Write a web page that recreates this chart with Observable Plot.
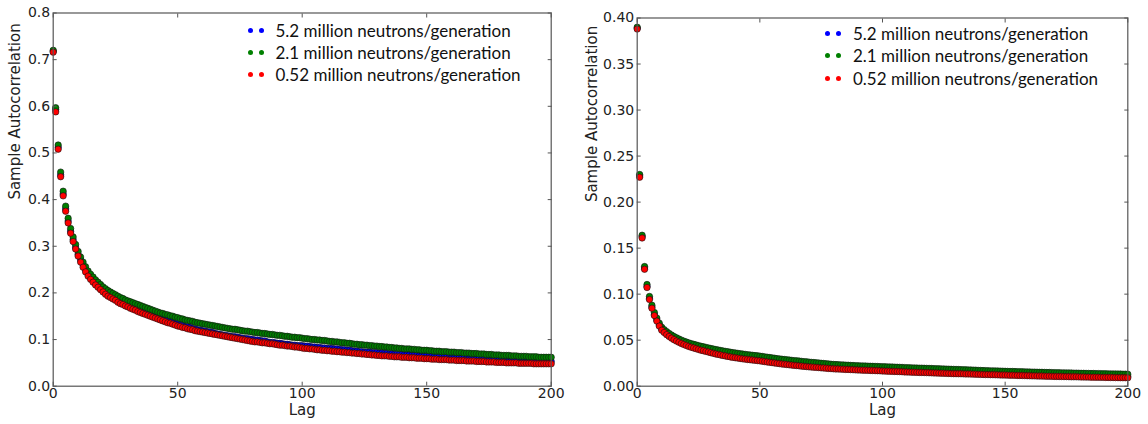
<!DOCTYPE html>
<html><head><meta charset="utf-8">
<script src="https://cdn.jsdelivr.net/npm/d3@7"></script>
<script src="https://cdn.jsdelivr.net/npm/@observablehq/plot@0.6"></script>
<style>
html,body{margin:0;padding:0;background:#fff;}
#wrap{position:relative;width:1148px;height:424px;overflow:hidden;background:#fff;}
.panel{position:absolute;top:0;}
.lg{position:absolute;font-family:Lato,"Open Sans",sans-serif;font-size:17px;color:#111;white-space:nowrap;}
.row{position:absolute;left:0;height:22px;display:flex;align-items:center;}
.dot{display:inline-block;width:5px;height:5px;border-radius:50%;margin-right:6px;}
</style></head><body><div id="wrap"></div><script>
const seriesNames = ["5.2 million neutrons/generation","2.1 million neutrons/generation","0.52 million neutrons/generation"];
const seriesColors = ["#0000ff","#008000","#ff0000"];
const xTicks = [0,50,100,150,200];
const leftYTicks = [0,0.1,0.2,0.3,0.4,0.5,0.6,0.7,0.8];
const rightYTicks = [0,0.05,0.10,0.15,0.20,0.25,0.30,0.35,0.40];

// Left panel (lags 0..200)
const left52 = [.718,.593,.512,.453,.412,.380,.354,.332,.314,.298,
.283,.271,.260,.250,.240,.233,.227,.221,.215,.210,
.205,.201,.197,.193,.190,.187,.184,.181,.178,.175,
.173,.171,.169,.166,.164,.162,.160,.158,.155,.153,
.151,.149,.147,.144,.143,.141,.140,.138,.136,.134,
.133,.131,.130,.128,.127,.126,.124,.122,.121,.120,
.119,.118,.117,.116,.115,.113,.112,.111,.110,.109,
.108,.107,.106,.106,.105,.104,.103,.102,.102,.101,
.100,.099,.099,.098,.097,.097,.095,.094,.094,.093,
.092,.092,.091,.090,.090,.089,.088,.088,.087,.087,
.087,.086,.086,.085,.084,.084,.083,.083,.082,.082,
.081,.081,.081,.080,.080,.079,.078,.078,.077,.077,
.076,.075,.075,.074,.074,.073,.073,.073,.072,.072,
.072,.071,.071,.070,.070,.069,.069,.068,.068,.068,
.068,.067,.067,.067,.066,.066,.066,.065,.065,.065,
.065,.064,.064,.063,.063,.063,.062,.062,.062,.061,
.061,.061,.060,.060,.060,.060,.059,.059,.059,.059,
.059,.058,.058,.058,.057,.057,.057,.057,.056,.056,
.056,.056,.055,.055,.055,.055,.055,.054,.054,.054,
.054,.054,.054,.053,.053,.053,.053,.053,.053,.053,
.053];
const left21 = [.720,.597,.517,.459,.418,.386,.360,.338,.320,.304,
.289,.277,.266,.256,.247,.240,.234,.228,.223,.218,
.213,.209,.205,.202,.199,.196,.193,.190,.188,.185,
.183,.181,.179,.177,.175,.173,.171,.169,.167,.165,
.163,.161,.159,.157,.156,.154,.153,.151,.150,.148,
.147,.145,.144,.142,.141,.140,.139,.137,.136,.135,
.134,.133,.132,.131,.130,.129,.128,.127,.126,.125,
.124,.123,.122,.122,.121,.120,.119,.118,.118,.117,
.116,.115,.115,.114,.113,.113,.112,.111,.111,.110,
.109,.109,.108,.107,.107,.106,.105,.105,.104,.104,
.103,.102,.102,.101,.100,.100,.099,.099,.098,.098,
.097,.096,.096,.095,.095,.094,.093,.093,.092,.092,
.091,.090,.090,.089,.089,.088,.088,.087,.087,.086,
.086,.085,.085,.084,.084,.083,.083,.082,.082,.081,
.081,.080,.080,.080,.079,.079,.078,.078,.077,.077,
.077,.076,.076,.075,.075,.075,.074,.074,.074,.073,
.073,.073,.072,.072,.072,.071,.071,.071,.070,.070,
.070,.069,.069,.069,.068,.068,.068,.067,.067,.067,
.066,.066,.066,.066,.065,.065,.065,.064,.064,.064,
.064,.063,.063,.063,.063,.062,.062,.062,.062,.062,
.062];
const left052 = [.716,.588,.508,.449,.408,.375,.350,.328,.310,.294,
.279,.266,.255,.245,.236,.229,.223,.217,.212,.207,
.202,.197,.193,.190,.187,.184,.180,.177,.175,.172,
.170,.167,.165,.163,.160,.158,.156,.154,.152,.150,
.148,.146,.144,.142,.140,.138,.136,.135,.133,.131,
.129,.128,.126,.125,.123,.122,.121,.119,.118,.117,
.116,.115,.114,.113,.112,.111,.110,.109,.108,.107,
.106,.105,.104,.103,.102,.101,.100,.099,.098,.097,
.096,.095,.095,.094,.093,.093,.092,.091,.091,.090,
.089,.088,.088,.087,.086,.086,.085,.084,.084,.083,
.082,.081,.081,.080,.080,.079,.078,.078,.077,.077,
.076,.076,.075,.075,.074,.074,.073,.073,.072,.072,
.071,.071,.070,.070,.069,.069,.068,.068,.067,.067,
.066,.066,.065,.065,.065,.064,.064,.063,.063,.063,
.062,.062,.062,.061,.061,.061,.060,.060,.060,.059,
.059,.059,.058,.058,.058,.057,.057,.057,.057,.056,
.056,.056,.055,.055,.055,.055,.054,.054,.054,.054,
.053,.053,.053,.053,.052,.052,.052,.052,.051,.051,
.051,.051,.050,.050,.050,.050,.050,.049,.049,.049,
.049,.049,.049,.048,.048,.048,.048,.048,.048,.048,
.048];

// Right panel (lags 0..200)
const right52 = [.3890,.2285,.1625,.1285,.1085,.0955,.0860,.0780,.0720,.0666,
.0620,.0596,.0573,.0554,.0536,.0519,.0504,.0491,.0479,.0468,
.0457,.0447,.0438,.0430,.0422,.0414,.0406,.0400,.0393,.0386,
.0379,.0372,.0365,.0360,.0354,.0348,.0343,.0338,.0333,.0328,
.0324,.0320,.0316,.0312,.0309,.0305,.0302,.0299,.0296,.0293,
.0290,.0286,.0282,.0278,.0274,.0271,.0267,.0263,.0260,.0256,
.0253,.0250,.0247,.0244,.0241,.0239,.0236,.0233,.0230,.0228,
.0225,.0223,.0221,.0219,.0217,.0214,.0213,.0210,.0208,.0206,
.0204,.0202,.0202,.0200,.0199,.0197,.0197,.0195,.0194,.0192,
.0191,.0190,.0189,.0188,.0187,.0186,.0185,.0184,.0183,.0182,
.0180,.0179,.0178,.0177,.0176,.0175,.0174,.0173,.0172,.0170,
.0169,.0168,.0167,.0166,.0165,.0164,.0164,.0163,.0162,.0161,
.0160,.0159,.0158,.0157,.0156,.0155,.0154,.0153,.0152,.0151,
.0151,.0150,.0150,.0149,.0148,.0148,.0147,.0146,.0145,.0144,
.0143,.0142,.0141,.0141,.0140,.0140,.0139,.0138,.0137,.0136,
.0136,.0135,.0134,.0134,.0133,.0132,.0131,.0131,.0130,.0129,
.0128,.0127,.0127,.0126,.0125,.0125,.0124,.0123,.0123,.0122,
.0121,.0121,.0120,.0120,.0119,.0119,.0118,.0117,.0117,.0117,
.0116,.0115,.0115,.0114,.0114,.0113,.0113,.0112,.0112,.0111,
.0111,.0110,.0110,.0109,.0109,.0108,.0108,.0107,.0107,.0107,
.0106];
const right21 = [.3900,.2300,.1640,.1300,.1105,.0975,.0880,.0800,.0740,.0685,
.0640,.0615,.0593,.0574,.0556,.0540,.0526,.0513,.0501,.0490,
.0480,.0471,.0463,.0455,.0448,.0441,.0434,.0428,.0422,.0416,
.0410,.0404,.0398,.0393,.0388,.0383,.0378,.0374,.0369,.0365,
.0361,.0357,.0353,.0349,.0346,.0342,.0339,.0336,.0333,.0330,
.0327,.0323,.0319,.0315,.0311,.0308,.0304,.0300,.0297,.0293,
.0290,.0287,.0284,.0281,.0278,.0276,.0273,.0270,.0267,.0265,
.0262,.0259,.0257,.0254,.0252,.0249,.0247,.0244,.0242,.0239,
.0237,.0235,.0234,.0232,.0231,.0229,.0228,.0226,.0225,.0223,
.0222,.0221,.0220,.0219,.0218,.0217,.0216,.0215,.0214,.0213,
.0212,.0211,.0210,.0209,.0208,.0207,.0206,.0205,.0204,.0202,
.0201,.0200,.0199,.0198,.0197,.0196,.0196,.0195,.0194,.0193,
.0192,.0191,.0190,.0189,.0188,.0187,.0186,.0185,.0184,.0183,
.0182,.0181,.0180,.0179,.0178,.0177,.0176,.0175,.0174,.0172,
.0171,.0170,.0169,.0168,.0167,.0167,.0166,.0165,.0164,.0163,
.0162,.0161,.0160,.0160,.0159,.0158,.0157,.0157,.0156,.0155,
.0154,.0153,.0153,.0152,.0151,.0151,.0150,.0149,.0149,.0148,
.0147,.0146,.0146,.0145,.0145,.0144,.0144,.0143,.0142,.0142,
.0141,.0140,.0140,.0139,.0139,.0138,.0138,.0137,.0137,.0136,
.0135,.0135,.0134,.0134,.0133,.0133,.0132,.0132,.0131,.0131,
.0130];
const right052 = [.3880,.2270,.1610,.1270,.1072,.0942,.0847,.0767,.0707,.0653,
.0608,.0583,.0560,.0540,.0522,.0505,.0490,.0477,.0464,.0453,
.0442,.0432,.0423,.0415,.0407,.0399,.0391,.0385,.0378,.0371,
.0364,.0357,.0350,.0345,.0339,.0333,.0328,.0323,.0318,.0313,
.0309,.0305,.0301,.0297,.0294,.0290,.0287,.0284,.0281,.0278,
.0275,.0271,.0267,.0263,.0259,.0256,.0252,.0248,.0245,.0241,
.0238,.0235,.0232,.0229,.0226,.0224,.0221,.0218,.0215,.0213,
.0210,.0208,.0206,.0204,.0202,.0199,.0198,.0195,.0193,.0191,
.0189,.0187,.0187,.0185,.0184,.0182,.0182,.0180,.0179,.0177,
.0176,.0175,.0174,.0173,.0172,.0171,.0170,.0169,.0168,.0167,
.0165,.0164,.0163,.0162,.0161,.0160,.0159,.0158,.0157,.0155,
.0154,.0153,.0152,.0151,.0150,.0149,.0149,.0148,.0147,.0146,
.0145,.0144,.0143,.0142,.0141,.0140,.0139,.0138,.0137,.0136,
.0136,.0135,.0135,.0134,.0133,.0133,.0132,.0131,.0130,.0129,
.0128,.0127,.0126,.0126,.0125,.0125,.0124,.0123,.0122,.0121,
.0121,.0120,.0119,.0119,.0118,.0117,.0116,.0116,.0115,.0114,
.0113,.0112,.0112,.0111,.0110,.0110,.0109,.0108,.0108,.0107,
.0106,.0106,.0105,.0105,.0104,.0104,.0103,.0102,.0102,.0102,
.0101,.0100,.0100,.0099,.0099,.0098,.0098,.0097,.0097,.0096,
.0096,.0095,.0095,.0094,.0094,.0093,.0093,.0092,.0092,.0092,
.0091];

function rowsFor(arrays) {
  const rows = [];
  arrays.forEach((arr, s) => arr.forEach((v, lag) => rows.push({lag, v, s: seriesNames[s]})));
  return rows;
}

function panel({series, yTicks, yDomain, yFormat, width, mL, mR, mT, mB, labelDx}) {
  const ax = "#555";
  return Plot.plot({
    width, height: 424,
    marginLeft: mL, marginRight: mR, marginTop: mT, marginBottom: mB,
    x: {domain: [0, 200]},
    y: {domain: yDomain},
    color: {domain: seriesNames, range: seriesColors},
    style: {fontFamily: "DejaVu Sans", fontSize: "14px", color: "#222", background: "white", overflow: "visible"},
    marks: [
      Plot.dot(rowsFor(series), {x: "lag", y: "v", fill: "s", r: 3.2, stroke: "#111", strokeWidth: 0.6}),
      Plot.frame({stroke: ax, strokeWidth: 1.2}),
      Plot.axisX(xTicks, {anchor: "bottom", tickSize: -4, fill: "none", stroke: ax, label: null}),
      Plot.axisX(xTicks, {anchor: "top", tickSize: -4, fill: "none", stroke: ax, label: null}),
      Plot.axisY(yTicks, {anchor: "left", tickSize: -4, fill: "none", stroke: ax, label: null}),
      Plot.axisY(yTicks, {anchor: "right", tickSize: -4, fill: "none", stroke: ax, label: null}),
      Plot.axisX(xTicks, {anchor: "bottom", tickSize: 0, tickPadding: 2, label: null, fill: "#222"}),
      Plot.axisY(yTicks, {anchor: "left", tickSize: 0, tickPadding: 3, tickFormat: d3.format(yFormat), label: null, fill: "#222"}),
      Plot.text(["Lag"], {text: d => d, frameAnchor: "bottom", dy: 29, fontSize: 15, fill: "#222"}),
      Plot.text(["Sample Autocorrelation"], {text: d => d, frameAnchor: "left", rotate: -90, dx: labelDx, fontSize: 15, fill: "#222"})
    ]
  });
}

const wrap = document.getElementById("wrap");
const leftSvg = panel({series: [left52, left21, left052], yTicks: leftYTicks, yDomain: [0, 0.8], yFormat: ".1f",
  width: 570, mL: 52.7, mR: 19.3, mT: 12.5, mB: 38.3, labelDx: -38});
const rightSvg = panel({series: [right52, right21, right052], yTicks: rightYTicks, yDomain: [0, 0.4], yFormat: ".2f",
  width: 578, mL: 66.7, mR: 20.7, mT: 17.5, mB: 38.3, labelDx: -45});
const lp = document.createElement("div"); lp.className = "panel"; lp.style.left = "0px"; lp.appendChild(leftSvg); wrap.appendChild(lp);
const rp = document.createElement("div"); rp.className = "panel"; rp.style.left = "570px"; rp.appendChild(rightSvg); wrap.appendChild(rp);

function legend(left, top, spacing) {
  const g = document.createElement("div");
  g.className = "lg"; g.style.left = left + "px"; g.style.top = top + "px";
  seriesNames.forEach((name, i) => {
    const r = document.createElement("div"); r.className = "row"; r.style.top = (i * spacing) + "px";
    for (let k = 0; k < 2; k++) { const d = document.createElement("span"); d.className = "dot"; d.style.background = seriesColors[i]; r.appendChild(d); }
    const t = document.createElement("span"); t.textContent = name; t.style.marginLeft = "6px"; r.appendChild(t);
    g.appendChild(r);
  });
  wrap.appendChild(g);
}
legend(247.5, 19, 22);
legend(825, 22.3, 22.5);
</script></body></html>
